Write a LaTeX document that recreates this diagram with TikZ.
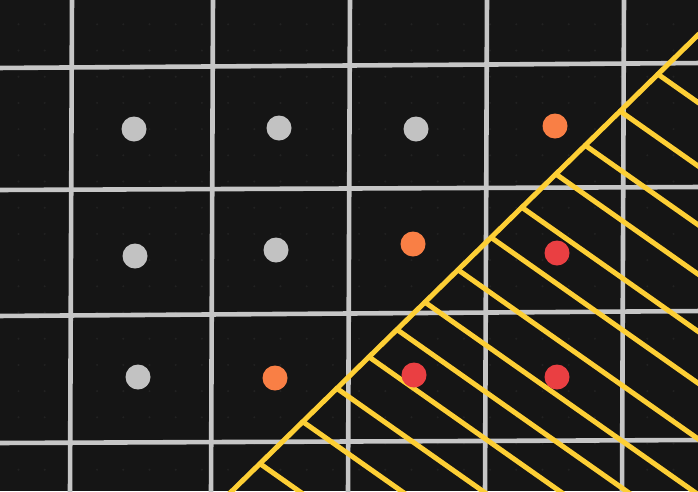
\documentclass[tikz,border=0pt]{standalone}
\usetikzlibrary{calc}
\definecolor{bg}{HTML}{151515}
\definecolor{gridc}{HTML}{C6C6C6}
\definecolor{dotgray}{HTML}{C2C2C2}
\definecolor{dotorange}{HTML}{F97F45}
\definecolor{dotred}{HTML}{EA3F42}
\definecolor{hatchc}{HTML}{FDCF35}
\definecolor{faint}{HTML}{222222}
\begin{document}
\begin{tikzpicture}[x=1pt,y=-1pt,
  gridline/.style={draw=gridc,line width=4.6pt},
  yel/.style={draw=hatchc,line width=5pt,line cap=round},
  dotc/.style={circle,inner sep=0pt,minimum size=25pt,fill=#1}]
\useasboundingbox (0,0) rectangle (698,491);
\fill[bg] (0,0) rectangle (698,491);
\begin{scope}
\clip (0,0) rectangle (698,491);
% faint background dot grid
\foreach \i in {0,...,26} \foreach \j in {0,...,18}
  \fill[faint] (18.5+26.2*\i, 24.3+26.2*\j) circle (1.1);
% grid lines
\draw[gridline] (72,-5) -- (70,496);
\draw[gridline] (213,-5) -- (211,496);
\draw[gridline] (350,-5) -- (348,496);
\draw[gridline] (487,-5) -- (485,496);
\draw[gridline] (624,-5) -- (622,496);
\draw[gridline] (-5,68) -- (703,63);
\draw[gridline] (-5,190) -- (703,187);
\draw[gridline] (-5,316) -- (703,311);
\draw[gridline] (-5,443) -- (703,440);
% yellow boundary and hatching
\coordinate (A) at (232,491);
\coordinate (B) at (698,35);
\coordinate (A0) at ($(A)!-0.1!(B)$);
\coordinate (B0) at ($(A)!1.1!(B)$);
\draw[yel] (A0) -- (B0);
\foreach \t [count=\k] in {0.060,0.152,0.225,0.294,0.354,0.414,0.485,0.556,0.622,0.695,0.758,0.833,0.914}{
  \coordinate (J\k) at ($(A)!\t!(B)$);
  \draw[yel] (J\k) -- ++(500,352);
}
\end{scope}
% dots
\node[dotc=dotgray] (g11) at (134,129) {};
\node[dotc=dotgray] (g12) at (279,128) {};
\node[dotc=dotgray] (g13) at (416,129) {};
\node[dotc=dotorange] (o14) at (555,126) {};
\node[dotc=dotgray] (g21) at (135,256) {};
\node[dotc=dotgray] (g22) at (276,250) {};
\node[dotc=dotorange] (o23) at (413,244) {};
\node[dotc=dotred] (r24) at (557,253) {};
\node[dotc=dotgray] (g31) at (138,377) {};
\node[dotc=dotorange] (o32) at (275,378) {};
\node[dotc=dotred] (r33) at (414,375) {};
\node[dotc=dotred] (r34) at (557,377) {};
\end{tikzpicture}
\end{document}
